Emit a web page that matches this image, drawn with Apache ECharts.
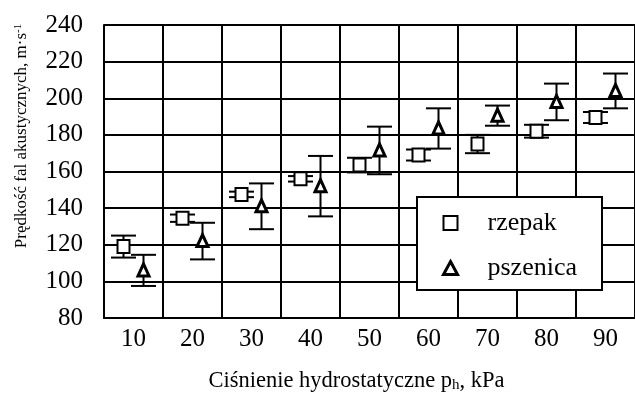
<!DOCTYPE html>
<html>
<head>
<meta charset="utf-8">
<script src="https://cdn.jsdelivr.net/npm/echarts@6/dist/echarts.min.js"></script>
<style>html,body{margin:0;padding:0;background:#fff}#c{width:635px;height:398px}</style>
</head>
<body>
<div id="c"></div>
<script>
const categories = ['10', '20', '30', '40', '50', '60', '70', '80', '90'];
const rzepakMean = [119, 134.5, 147.5, 156, 163.5, 169, 175, 182, 189.5];
const rzepakErr = [6, 2, 1.5, 1.5, 4, 3, 5, 3.5, 3];
const pszenicaMean = [106, 122, 141, 152, 171.5, 183.5, 190.5, 198, 204];
const pszenicaErr = [8.5, 10, 12.5, 16.5, 13, 11, 5.5, 10, 9.5];
const yMin = 80, yMax = 240, yStep = 20;

const FONT = 'Liberation Serif';
const chart = echarts.init(document.getElementById('c'), null, {renderer: 'canvas'});

function makeRender(kind, dx) {
  return function (params, api) {
    const x = api.value(0), m = api.value(1), e = api.value(2);
    const pm = api.coord([x, m]);
    const pt = api.coord([x, m + e]);
    const pb = api.coord([x, m - e]);
    const cx = pm[0] + dx;
    const cap = 12.5;
    const ls = {stroke: '#000', lineWidth: 2};
    const children = [
      {type: 'line', shape: {x1: cx, y1: pt[1], x2: cx, y2: pb[1]}, style: ls},
      {type: 'line', shape: {x1: cx - cap, y1: pt[1], x2: cx + cap, y2: pt[1]}, style: ls},
      {type: 'line', shape: {x1: cx - cap, y1: pb[1], x2: cx + cap, y2: pb[1]}, style: ls}
    ];
    if (kind === 'square') {
      children.push({type: 'rect', shape: {x: cx - 6, y: pm[1] - 6.5, width: 12, height: 13},
        style: {fill: '#fff', stroke: '#000', lineWidth: 2}});
    } else {
      children.push({type: 'polygon', shape: {points: [[cx, pm[1] - 6.5], [cx - 5.5, pm[1] + 5.5], [cx + 5.5, pm[1] + 5.5]]},
        style: {fill: '#fff', stroke: '#000', lineWidth: 3, lineJoin: 'miter'}});
    }
    return {type: 'group', children: children};
  };
}

chart.setOption({
  animation: false,
  backgroundColor: '#fff',
  grid: {left: 104, right: -9, top: 25, bottom: 72, containLabel: false},
  xAxis: {
    type: 'category',
    data: categories,
    boundaryGap: true,
    axisLine: {show: true, lineStyle: {color: '#000', width: 2}},
    axisTick: {show: false},
    axisLabel: {color: '#000', fontFamily: FONT, fontSize: 25, margin: 9},
    splitLine: {show: true, lineStyle: {color: '#000', width: 2}},
    name: 'Ciśnienie hydrostatyczne p{sub|h}, kPa',
    nameLocation: 'middle',
    nameGap: 51,
    nameTextStyle: {color: '#000', fontFamily: FONT, fontSize: 22.5, lineHeight: 24, padding: [0, 26, 0, 0],
      rich: {sub: {fontFamily: FONT, fontSize: 15, verticalAlign: 'bottom', padding: [8, 0, 0, 0], color: '#000'}}}
  },
  yAxis: {
    type: 'value',
    min: yMin, max: yMax, interval: yStep,
    axisLine: {show: true, lineStyle: {color: '#000', width: 2}},
    axisTick: {show: false},
    axisLabel: {color: '#000', fontFamily: FONT, fontSize: 25, margin: 21},
    splitLine: {show: true, lineStyle: {color: '#000', width: 2}}
  },
  legend: {
    orient: 'vertical',
    left: 417, top: 197,
    padding: [13, 25, 9, 25],
    backgroundColor: '#fff',
    borderColor: '#000', borderWidth: 2, borderRadius: 0,
    itemWidth: 14, itemHeight: 14, itemGap: 19,
    textStyle: {color: '#000', fontFamily: FONT, fontSize: 26, lineHeight: 24, padding: [0, 0, 0, 25]},
    data: [
      {name: 'rzepak', icon: 'rect', itemStyle: {color: '#fff', borderColor: '#000', borderWidth: 2}},
      {name: 'pszenica', icon: 'path://M6,0 L12,11 L0,11 Z', itemStyle: {color: '#fff', borderColor: '#000', borderWidth: 3}}
    ]
  },
  graphic: [{
    type: 'text',
    x: 22, y: 136,
    rotation: Math.PI / 2,
    style: {
      text: 'Prędkość fal akustycznych, m·s{sup|-1}',
      fontFamily: FONT, fontSize: 17, fill: '#000',
      align: 'center', verticalAlign: 'middle',
      rich: {sup: {fontFamily: FONT, fontSize: 11, verticalAlign: 'top', padding: [0, 0, 8, 0], fill: '#000'}}
    }
  }],
  series: [
    {name: 'rzepak', type: 'custom', renderItem: makeRender('square', -10),
      itemStyle: {color: '#fff', borderColor: '#000'},
      encode: {x: 0, y: 1},
      data: categories.map((c, i) => [i, rzepakMean[i], rzepakErr[i]]), z: 3},
    {name: 'pszenica', type: 'custom', renderItem: makeRender('triangle', 10),
      itemStyle: {color: '#fff', borderColor: '#000'},
      encode: {x: 0, y: 1},
      data: categories.map((c, i) => [i, pszenicaMean[i], pszenicaErr[i]]), z: 3}
  ]
});
</script>
</body>
</html>
